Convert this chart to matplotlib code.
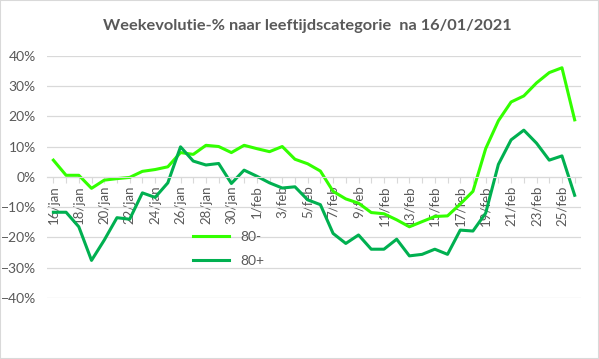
import numpy as np
import pandas as pd
import matplotlib.pyplot as plt
from matplotlib.patches import Rectangle
from matplotlib.ticker import PercentFormatter

# dates 16/jan .. 26/feb
dates = pd.date_range('2021-01-16', '2021-02-26')
months = {1: 'jan', 2: 'feb'}
date_labels = [f"{d.day}/{months[d.month]}" for d in dates]

# week evolution in %
under80 = [5.5, 0.5, 0.5, -3.8, -1.1, -0.6, -0.2, 1.8, 2.4, 3.3,
           8.0, 7.4, 10.4, 10.0, 8.0, 10.4, 9.3, 8.3, 10.0, 5.8,
           4.3, 1.9, -4.8, -7.3, -8.7, -11.8, -12.2, -14.2, -16.5, -14.8,
           -13.1, -12.9, -9.0, -4.8, 9.3, 18.5, 24.7, 26.7, 31.0, 34.4,
           36.0, 18.8]
over80 = [-11.7, -11.7, -16.5, -27.6, -20.9, -13.5, -14.0, -5.3, -6.8, -2.0,
          9.9, 5.2, 3.9, 4.4, -2.2, 2.2, 0.2, -2.0, -3.7, -3.3,
          -7.6, -9.2, -18.7, -22.0, -19.2, -23.9, -23.9, -20.6, -26.1, -25.6,
          -23.9, -25.6, -17.6, -17.9, -12.0, 4.1, 12.2, 15.4, 11.1, 5.5,
          6.9, -6.1]

light = '#33FF00'
dark = '#00B050'
grey = '#595959'

plt.rcParams['font.family'] = ['Lato', 'DejaVu Sans']

fig = plt.figure(figsize=(5.99, 3.59), dpi=100)
ax = fig.add_axes([0.0785, 0.170, 0.8915, 0.675])

x = np.arange(len(dates))
ax.plot(x, under80, color=light, lw=2.2, label='80-', solid_joinstyle='round')
ax.plot(x, over80, color=dark, lw=2.2, label='80+', solid_joinstyle='round')

# x axis sits on the 0% line
for s in ['top', 'right', 'left']:
    ax.spines[s].set_visible(False)
ax.spines['bottom'].set_position(('data', 0))
ax.spines['bottom'].set_color('#d9d9d9')

ax.set_xlim(-0.5, len(dates) - 0.5)
ax.set_ylim(-40, 40)
ax.set_yticks(range(-40, 41, 10))
ax.yaxis.set_major_formatter(PercentFormatter(decimals=0))
ax.grid(axis='y', color='#d9d9d9', lw=0.9)
ax.set_axisbelow(True)

ax.set_xticks(x)
ax.set_xticklabels([lab if i % 2 == 0 else '' for i, lab in enumerate(date_labels)])
ax.tick_params(axis='x', direction='out', length=4, color='#d9d9d9', pad=2,
               labelrotation=90, labelcolor=grey, labelsize=9.5)
ax.tick_params(axis='y', length=0, labelcolor=grey, labelsize=10, pad=8)

ax.legend(loc='upper left', bbox_to_anchor=(0.25, 0.33), frameon=False,
          handlelength=2.6, labelspacing=0.9, fontsize=10, labelcolor=grey)

fig.text(0.513, 0.928, 'Weekevolutie-% naar leeftijdscategorie  na 16/01/2021',
         ha='center', va='center', fontsize=11.8, fontweight='bold', color=grey)

fig.patches.append(Rectangle((0, 0), 1, 1, transform=fig.transFigure,
                             fill=False, edgecolor='#d9d9d9', lw=1.5))

fig.savefig('out.png', dpi=100)
